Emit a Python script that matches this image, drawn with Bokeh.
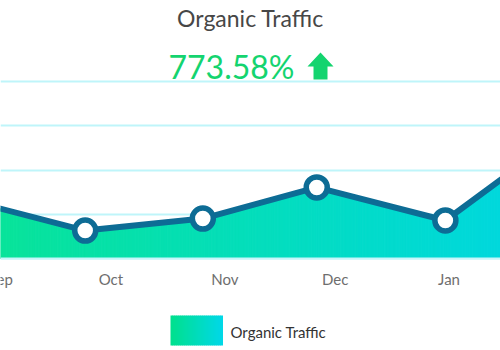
import numpy as np
import pandas as pd
from bokeh.plotting import figure
from bokeh.models import Range1d, FixedTicker, Label, PolyAnnotation, BoxAnnotation, Span
from bokeh.core.properties import value
from bokeh.embed import file_html
from bokeh.resources import INLINE

# ---- data ----
point_dates = ["2023-08-24", "2023-09-24", "2023-10-26", "2023-11-26", "2023-12-31", "2024-01-31"]
traffic = [325, 158, 226, 402, 215, 690]
tick_dates = ["2023-09-01", "2023-10-01", "2023-11-01", "2023-12-01", "2024-01-01"]
tick_labels = ["Sep", "Oct", "Nov", "Dec", "Jan"]
grid_values = [0, 250, 500, 750, 1000]
title_text = "Organic Traffic"
change_text = "773.58%"
series_name = "Organic Traffic"

origin = pd.Timestamp("2023-09-01")
xs = np.array([(pd.Timestamp(d) - origin).days for d in point_dates], dtype=float)
ys = np.array(traffic, dtype=float)
ticks = [(pd.Timestamp(d) - origin).days for d in tick_dates]

H = 350
BASE = 258          # canvas row of value 0
PX_PER_UNIT = 44.2 / 250
X0, X1 = -0.05, 136.0
Y0 = -(H - BASE) / PX_PER_UNIT
Y1 = BASE / PX_PER_UNIT

p = figure(width=500, height=H, output_backend="svg", toolbar_location=None,
           x_range=Range1d(X0, X1), y_range=Range1d(Y0, Y1),
           x_axis_location=None, y_axis_location=None,
           min_border_left=0, min_border_right=0, min_border_top=0, min_border_bottom=0)
p.outline_line_color = None
p.background_fill_color = "white"
p.border_fill_color = "white"

# grid
p.xgrid.grid_line_color = None
p.ygrid.ticker = FixedTicker(ticks=grid_values)
p.ygrid.grid_line_color = "#bff5fa"
p.ygrid.grid_line_width = 2

# gradient area (vertical strips coloured from left to right)
def mix(c0, c1, t):
    a = np.array([int(c0[i:i + 2], 16) for i in (1, 3, 5)], float)
    b = np.array([int(c1[i:i + 2], 16) for i in (1, 3, 5)], float)
    c = a + (b - a) * t
    return "#%02x%02x%02x" % tuple(int(round(v)) for v in c)

edges = np.unique(np.concatenate([np.linspace(X0, X1, 160), xs[(xs > X0) & (xs < X1)]]))
pxs, pys, cols = [], [], []
for a, b in zip(edges[:-1], edges[1:]):
    ya, yb = np.interp(a, xs, ys), np.interp(b, xs, ys)
    pxs.append([a, a, b, b])
    pys.append([0, ya, yb, 0])
    cols.append(mix("#08e39a", "#00d8dc", ((a + b) / 2 - X0) / (X1 - X0)))
p.patches(pxs, pys, fill_color=cols, line_color=cols, line_width=1)

# baseline
p.add_layout(Span(location=0, dimension="width", line_color="#c6f6fa", line_width=2))

# line and markers
line_col = "#0d6c95"
p.line(xs, ys, line_color=line_col, line_width=6)
p.scatter(xs, ys, size=21, fill_color="white", line_color=line_col, line_width=5.5)

# month labels
p.text(x=ticks, y=[0] * len(ticks), text=tick_labels, y_offset=20,
       text_align="center", text_baseline="middle", text_font=value("Lato"),
       text_font_size="15px", text_color="#6e6e6e")

# title texts (screen units measured from the canvas bottom)
p.add_layout(Label(x=250, y=H - 17, x_units="screen", y_units="screen", text=title_text,
                   text_align="center", text_baseline="middle", text_font="Lato",
                   text_font_size="23px", text_color="#474747"))
p.add_layout(Label(x=231, y=H - 66, x_units="screen", y_units="screen", text=change_text,
                   text_align="center", text_baseline="middle", text_font="Lato",
                   text_font_size="32px", text_color="#14d46f"))
arrow_x = [307, 320, 333, 327, 327, 313, 313]
arrow_y = [66, 52, 66, 66, 79, 79, 66]
p.add_layout(PolyAnnotation(xs=arrow_x, ys=[H - v for v in arrow_y], xs_units="screen",
                            ys_units="screen", fill_color="#14d46f", fill_alpha=1,
                            line_color=None))

# legend
lx0, lx1, ly0, ly1 = 170, 222, 315, 345
n = 26
for i in range(n):
    a = lx0 + (lx1 - lx0) * i / n
    b = lx0 + (lx1 - lx0) * (i + 1) / n + 0.5
    c = mix("#00e08c", "#00d8e8", (i + 0.5) / n)
    p.add_layout(BoxAnnotation(left=a, right=b, top=H - ly0, bottom=H - ly1,
                               left_units="screen", right_units="screen",
                               top_units="screen", bottom_units="screen",
                               fill_color=c, fill_alpha=1, line_color=None))
p.add_layout(Label(x=230, y=H - 331, x_units="screen", y_units="screen", text=series_name,
                   text_align="left", text_baseline="middle", text_font="Lato",
                   text_font_size="15px", text_color="#333333"))

open("out.html", "w").write(file_html(p, INLINE))
